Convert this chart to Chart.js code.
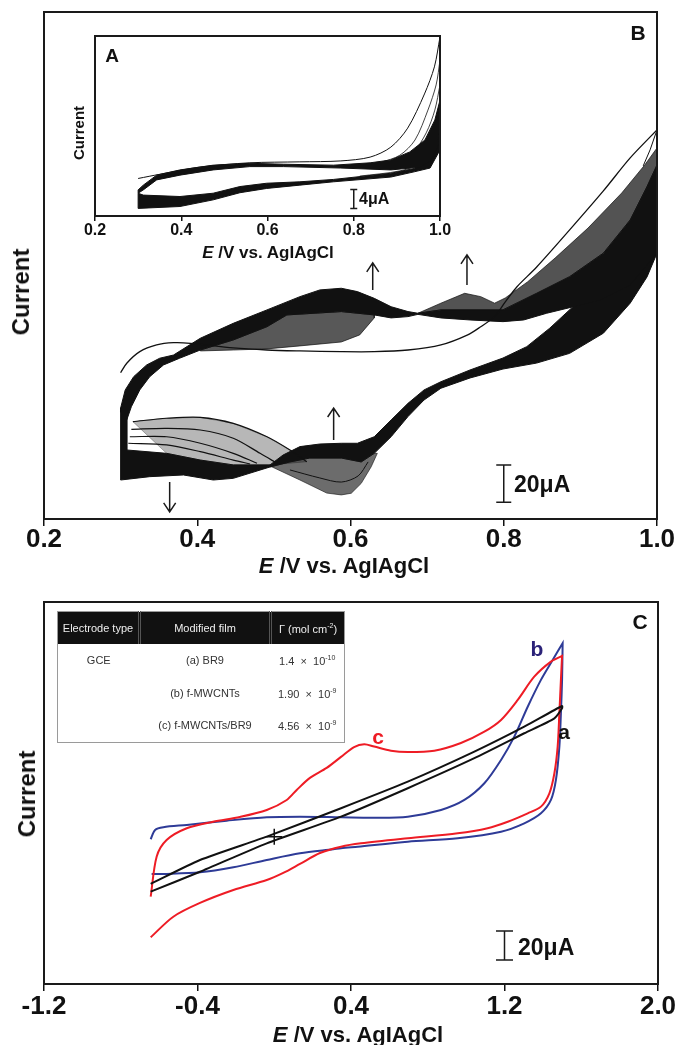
<!DOCTYPE html>
<html>
<head>
<meta charset="utf-8">
<script src="https://cdn.jsdelivr.net/npm/chart.js@4.4.1/dist/chart.umd.min.js"></script>
<style>
  html, body { margin: 0; padding: 0; background: #fff; }
  #page { position: relative; width: 682px; height: 1045px; overflow: hidden;
    font-family: "Liberation Sans", Arial, Helvetica, sans-serif; font-weight: bold; color: #111; }
  canvas { position: absolute; left: 0; }
  .t { position: absolute; white-space: nowrap; line-height: 1; transform: translate(-50%, -50%); }
  .l { position: absolute; white-space: nowrap; line-height: 1; transform: translateY(-50%); }
  .rot { transform: translate(-50%, -50%) rotate(-90deg); }
  #tbl { position: absolute; left: 57px; top: 611px; width: 288px; border-collapse: collapse;
    table-layout: fixed; font-family: "Liberation Sans", Arial, sans-serif; font-weight: normal;
    border: 1px solid #9a9a9a; }
  #tbl th, #tbl td { white-space: nowrap; padding: 0; text-align: center; }
  #tbl th { background: #111; color: #eee; font-weight: normal; font-size: 11px; height: 32px; }
  #tbl th + th { border-left: 3px double #555; }
  #tbl td { color: #333; font-size: 11px; height: 32.6px; }
  #tbl sup { font-size: 7px; }
</style>
</head>
<body>
<div id="page">
  <canvas id="chartB" width="682" height="580" style="top:0"></canvas>
  <canvas id="chartA" width="682" height="280" style="top:0"></canvas>
  <canvas id="chartC" width="682" height="465" style="top:580px"></canvas>

  <div class="t" style="left:638px; top:32px; font-size:21px;">B</div>
  <div class="t rot" style="left:21px; top:292px; font-size:24px;">Current</div>
  <div class="t" style="left:344px; top:566px; font-size:22px;"><i>E</i> /V vs. AgIAgCl</div>
  <div class="l" style="left:514px; top:484px; font-size:23px;">20μA</div>

  <div class="t" style="left:112px; top:55px; font-size:19px;">A</div>
  <div class="t rot" style="left:78px; top:133px; font-size:15px;">Current</div>
  <div class="t" style="left:268px; top:252px; font-size:17px;"><i>E</i> /V vs. AgIAgCl</div>
  <div class="l" style="left:359px; top:199px; font-size:16px;">4μA</div>

  <div class="t" style="left:640px; top:621px; font-size:21px;">C</div>
  <div class="t rot" style="left:27px; top:794px; font-size:24px;">Current</div>
  <div class="t" style="left:358px; top:1035px; font-size:22px;"><i>E</i> /V vs. AgIAgCl</div>
  <div class="l" style="left:518px; top:947px; font-size:23px;">20μA</div>
  <div class="t" style="left:564px; top:731px; font-size:21px;">a</div>
  <div class="t" style="left:537px; top:648px; font-size:21px; color:#2b2278;">b</div>
  <div class="t" style="left:378px; top:736px; font-size:21px; color:#ee1c25;">c</div>

  <table id="tbl">
    <colgroup><col style="width:82px"><col style="width:131px"><col></colgroup>
    <tr><th>Electrode type</th><th>Modified film</th><th>Γ (mol cm<sup>-2</sup>)</th></tr>
    <tr><td>GCE</td><td>(a) BR9</td><td>1.4 &nbsp;×&nbsp; 10<sup>-10</sup></td></tr>
    <tr><td></td><td>(b) f-MWCNTs</td><td>1.90 &nbsp;×&nbsp; 10<sup>-9</sup></td></tr>
    <tr><td></td><td>(c) f-MWCNTs/BR9</td><td>4.56 &nbsp;×&nbsp; 10<sup>-9</sup></td></tr>
  </table>
</div>

<script>
// ---- Panel B: repeated cycles (E in V, I in uA) ----
const bFwdTopE = [0.300, 0.306, 0.317, 0.334, 0.351, 0.369, 0.404, 0.447, 0.491, 0.534, 0.560, 0.588, 0.609, 0.631, 0.653, 0.675, 0.688, 0.718, 0.756, 0.799, 0.843, 0.886, 0.930, 0.965, 0.987, 1.000];
const bFwdTopI = [59.5, 69.2, 76.3, 82.6, 86.2, 87.9, 96.9, 104.9, 112.1, 119.2, 122.8, 123.7, 121.9, 118.3, 113.8, 111.2, 110.3, 112.1, 112.1, 112.1, 121.0, 129.9, 142.5, 160.3, 178.2, 189.8];
const bFwdBotE = [0.300, 0.308, 0.314, 0.325, 0.338, 0.356, 0.377, 0.404, 0.447, 0.491, 0.517, 0.588, 0.631, 0.653, 0.675, 0.688, 0.718, 0.756, 0.799, 0.826, 0.856, 0.890, 0.926, 0.965, 1.000];
const bFwdBotI = [57.4, 53.1, 60.2, 69.2, 76.3, 82.6, 86.2, 90.6, 96.0, 103.1, 109.4, 111.2, 109.4, 107.8, 108.5, 109.7, 107.8, 106.7, 105.8, 106.7, 110.3, 113.7, 117.4, 125.5, 142.5];
const bRevTopE = [0.495, 0.512, 0.534, 0.560, 0.588, 0.609, 0.631, 0.653, 0.675, 0.696, 0.718, 0.756, 0.799, 0.830, 0.860, 0.890, 0.926, 0.965, 1.000];
const bRevTopI = [29.0, 34.3, 38.8, 40.2, 40.6, 40.6, 44.1, 53.1, 62.0, 69.2, 73.6, 79.9, 86.3, 92.4, 102.3, 113.7, 122.8, 136.2, 149.6];
const bRevBotE = [0.495, 0.521, 0.547, 0.588, 0.614, 0.631, 0.653, 0.675, 0.696, 0.718, 0.756, 0.799, 0.843, 0.886, 0.930, 0.965, 0.987, 1.000];
const bRevBotI = [27.9, 30.6, 32.7, 32.7, 30.6, 35.2, 44.1, 54.9, 63.8, 70.1, 75.6, 80.4, 83.6, 88.8, 99.6, 115.7, 129.8, 142.5];
const bLowTopE = [0.300, 0.308, 0.308, 0.360, 0.404, 0.447, 0.495];
const bLowTopI = [59.5, 57.4, 37.0, 35.2, 31.6, 29.0, 29.0];
const bLowBotE = [0.300, 0.338, 0.382, 0.421, 0.447, 0.495];
const bLowBotI = [20.9, 22.7, 23.6, 20.9, 21.8, 27.9];
const bBumpLowE = [0.495, 0.534, 0.569, 0.588, 0.601, 0.614, 0.627, 0.635];
const bBumpLowI = [28.4, 20.9, 13.9, 12.9, 13.8, 19.1, 28.0, 35.2];
const bBumpMidE = [0.521, 0.560, 0.588, 0.610, 0.623];
const bBumpMidI = [26.3, 22.0, 19.8, 23.1, 30.6];
const bHatch1E = [0.404, 0.447, 0.491, 0.534, 0.588, 0.612, 0.631];
const bHatch1I = [90.1, 90.6, 91.2, 92.8, 94.9, 98.7, 107.8];
const bHatch2E = [0.688, 0.718, 0.749, 0.770, 0.788, 0.802, 0.831, 0.867, 0.910, 0.954, 0.984, 1.000];
const bHatch2I = [110.3, 115.7, 121.0, 119.2, 115.7, 118.5, 127.1, 139.9, 156.0, 174.8, 189.8, 198.9];
const bFirstE = [0.300, 0.308, 0.325, 0.347, 0.369, 0.391, 0.447, 0.491, 0.534, 0.588, 0.631, 0.675, 0.718, 0.753, 0.770, 0.788, 0.802, 0.817, 0.843, 0.886, 0.930, 0.965, 1.000];
const bFirstI = [78.4, 83.5, 89.7, 93.3, 94.5, 94.2, 91.7, 90.6, 90.1, 89.7, 89.7, 90.6, 93.3, 98.7, 103.1, 108.5, 116.4, 124.4, 135.1, 155.0, 175.9, 193.6, 208.6];
const bFan1E = [0.316, 0.360, 0.404, 0.447, 0.491, 0.521, 0.543];
const bFan1I = [52.2, 54.0, 54.5, 51.3, 44.1, 37.0, 30.7];
const bFan2E = [0.314, 0.360, 0.404, 0.447, 0.482, 0.504];
const bFan2I = [48.1, 48.6, 47.7, 43.3, 35.2, 29.9];
const bFan3E = [0.312, 0.360, 0.404, 0.447, 0.478];
const bFan3I = [44.1, 44.1, 40.6, 35.2, 29.9];
const bFan4E = [0.310, 0.360, 0.404, 0.447, 0.469];
const bFan4I = [40.6, 39.7, 36.1, 31.6, 29.5];
const bApexE = [1.000, 0.991, 0.982];
const bApexI = [208.6, 197.9, 189.3];

// ---- Inset A ----
const aFwdTopE = [0.300, 0.312, 0.343, 0.397, 0.474, 0.559, 0.637, 0.753, 0.838, 0.886, 0.930, 0.965, 0.988, 1.000];
const aFwdTopI = [5.5, 6.5, 8.6, 9.7, 10.7, 11.1, 10.9, 10.7, 11.2, 11.8, 13.5, 16.0, 20.2, 24.4];
const aFwdBotE = [0.300, 0.312, 0.343, 0.397, 0.474, 0.559, 0.637, 0.770, 0.886, 0.954, 0.981, 1.000];
const aFwdBotI = [4.8, 5.5, 7.6, 8.6, 9.7, 10.4, 10.4, 10.1, 9.7, 10.3, 11.8, 16.0];
const aRevTopE = [0.300, 0.312, 0.397, 0.474, 0.536, 0.598, 0.675, 0.753, 0.886, 0.940, 0.971, 0.995, 1.000];
const aRevTopI = [4.8, 4.4, 4.1, 4.8, 6.2, 6.9, 7.2, 7.7, 9.0, 10.0, 11.8, 16.0, 18.8];
const aRevBotE = [0.300, 0.397, 0.474, 0.536, 0.598, 0.675, 0.753, 0.886, 0.940, 0.977, 1.000];
const aRevBotI = [1.6, 2.0, 3.4, 4.9, 5.8, 6.5, 7.2, 8.2, 9.3, 10.1, 13.9];
const aFirstE = [0.300, 0.351, 0.443, 0.559, 0.675, 0.770, 0.838, 0.886, 0.925, 0.964, 0.987, 1.000];
const aFirstI = [7.9, 8.8, 10.3, 11.2, 11.4, 11.6, 12.4, 14.5, 18.5, 25.7, 31.4, 37.7];
const aFan2E = [0.861, 0.907, 0.942, 0.972, 0.991, 1.000];
const aFan2I = [11.2, 12.8, 16.0, 22.3, 27.6, 32.8];
const aFan3E = [0.896, 0.937, 0.968, 0.988, 1.000];
const aFan3I = [11.2, 13.3, 17.5, 22.3, 27.6];
const aFan4E = [0.926, 0.963, 0.986, 1.000];
const aFan4I = [11.0, 13.5, 17.5, 22.3];
const aRevLineE = [0.814, 0.907, 0.965, 0.991, 1.000];
const aRevLineI = [8.4, 9.5, 11.4, 14.3, 18.1];

// ---- Panel C: a = BR9, b = f-MWCNTs, c = f-MWCNTs/BR9 ----
const cRedFwdE = [-0.644, -0.613, -0.561, -0.456, -0.319, -0.179, -0.039, 0.065, 0.117, 0.186, 0.273, 0.348, 0.416, 0.469, 0.521, 0.608, 0.696, 0.834, 0.973, 1.095, 1.182, 1.269, 1.355, 1.442, 1.500];
const cRedFwdI = [60.2, 87.8, 99.3, 107.4, 111.9, 115.2, 120.0, 126.9, 133.8, 142.1, 149.0, 156.6, 163.4, 165.3, 163.7, 160.9, 160.0, 160.9, 166.2, 174.0, 182.1, 195.9, 211.9, 222.3, 226.2];
const cRedRevE = [1.500, 1.494, 1.486, 1.477, 1.460, 1.434, 1.390, 1.321, 1.217, 1.112, 0.956, 0.696, 0.452, 0.348, 0.238, 0.134, 0.047, -0.039, -0.213, -0.387, -0.526, -0.644];
const cRedRevI = [226.2, 209.7, 186.9, 163.7, 145.3, 131.5, 122.3, 117.7, 111.9, 107.4, 103.9, 100.5, 97.0, 94.7, 90.3, 82.8, 76.6, 71.7, 64.8, 55.9, 46.4, 32.2];
const cBlueFwdE = [-0.644, -0.621, -0.578, -0.456, -0.248, -0.039, 0.134, 0.348, 0.521, 0.696, 0.869, 0.991, 1.095, 1.182, 1.251, 1.321, 1.390, 1.451, 1.503];
const cBlueFwdI = [99.8, 106.2, 108.1, 109.7, 112.6, 115.0, 115.4, 115.0, 114.7, 115.4, 120.0, 126.9, 138.4, 154.5, 170.6, 191.2, 209.7, 223.4, 235.0];
const cBlueRevE = [1.503, 1.500, 1.494, 1.486, 1.468, 1.442, 1.390, 1.303, 1.182, 0.956, 0.696, 0.435, 0.348, 0.308, 0.134, -0.039, -0.213, -0.387, -0.561, -0.639];
const cBlueRevI = [235.0, 209.7, 186.7, 163.7, 140.7, 126.9, 117.7, 110.8, 105.0, 100.5, 98.1, 94.7, 93.6, 92.9, 90.1, 85.5, 80.5, 77.0, 75.9, 75.9];
const cBlackFwdE = [-0.644, -0.387, -0.039, 0.348, 0.696, 1.043, 1.303, 1.500];
const cBlackFwdI = [69.0, 85.5, 101.6, 121.2, 139.5, 160.2, 177.4, 191.7];
const cBlackRevE = [1.500, 1.460, 1.303, 1.043, 0.696, 0.348, -0.039, -0.387, -0.644];
const cBlackRevI = [190.1, 183.2, 172.9, 155.7, 135.0, 115.4, 97.0, 77.4, 63.7];
const cCrossE = [0.0];
const cCrossI = [101.6];

const FONT = '"Liberation Sans", Arial, Helvetica, sans-serif';
const INK = "#111";

function pts(E, I) {
  return E.map((e, k) => ({ x: e, y: I[k] }));
}
// closed outline: one edge left to right, the other back right to left
function band(top, bottom) {
  const p = top.concat(bottom.slice().reverse());
  p.push(p[0]);
  return p;
}
function within(p, lo, hi) {
  return p.filter((q) => q.x >= lo && q.x <= hi);
}
function solid(data, color) {
  return { data, showLine: true, fill: "shape", backgroundColor: color, borderColor: color,
    borderWidth: 1, pointRadius: 0, tension: 0 };
}
function trace(data, color, width, tension) {
  return { data, showLine: true, fill: false, borderColor: color, borderWidth: width,
    pointRadius: 0, tension: tension || 0 };
}

// frame, scale bars and arrows, placed through the chart's scales
const marksPlugin = {
  id: "marks",
  afterDraw(chart, args, opts) {
    const { ctx, chartArea: a } = chart;
    const x = chart.scales.x, y = chart.scales.y;
    ctx.save();
    ctx.strokeStyle = "#1a1a1a";
    ctx.lineWidth = 2;
    ctx.strokeRect(a.left, a.top, a.right - a.left, a.bottom - a.top);
    ctx.lineWidth = 1.5;
    (opts.bars || []).forEach(([e, lo, hi]) => {
      const px = x.getPixelForValue(e), y1 = y.getPixelForValue(lo), y2 = y.getPixelForValue(hi);
      const c = opts.cap / 2;
      ctx.beginPath();
      ctx.moveTo(px, y1); ctx.lineTo(px, y2);
      ctx.moveTo(px - c, y1); ctx.lineTo(px + c, y1);
      ctx.moveTo(px - c, y2); ctx.lineTo(px + c, y2);
      ctx.stroke();
    });
    (opts.arrows || []).forEach(([e, from, to]) => {
      const px = x.getPixelForValue(e), y1 = y.getPixelForValue(from), y2 = y.getPixelForValue(to);
      const d = y2 < y1 ? 1 : -1;
      ctx.beginPath();
      ctx.moveTo(px, y1); ctx.lineTo(px, y2);
      ctx.moveTo(px - 6, y2 + d * 9); ctx.lineTo(px, y2); ctx.lineTo(px + 6, y2 + d * 9);
      ctx.stroke();
    });
    ctx.restore();
  },
};

function xAxis(min, max, step, size, tick, height, pad) {
  return {
    type: "linear", min, max,
    ticks: { stepSize: step, autoSkip: false, maxRotation: 0, padding: pad, color: INK,
      font: { family: FONT, weight: "bold", size }, callback: (v) => v.toFixed(1) },
    grid: { drawOnChartArea: false, drawTicks: true, tickLength: tick, color: INK, lineWidth: 1.5 },
    border: { display: true, color: INK, width: 2 },
    afterFit: (s) => { s.height = height; },
  };
}
function baseOptions(pad, x, yMin, yMax, marks) {
  return {
    responsive: false, animation: false, events: [],
    layout: { padding: pad },
    scales: { x, y: { type: "linear", display: false, min: yMin, max: yMax } },
    plugins: { legend: { display: false }, tooltip: { enabled: false }, marks },
  };
}

// ---- B ----
const fwd = band(pts(bFwdTopE, bFwdTopI), pts(bFwdBotE, bFwdBotI));
const rev = band(pts(bRevTopE, bRevTopI), pts(bRevBotE, bRevBotI));
const low = band(pts(bLowTopE, bLowTopI), pts(bLowBotE, bLowBotI));
const hatch1 = band(within(pts(bFwdBotE, bFwdBotI), 0.404, 0.631), pts(bHatch1E, bHatch1I));
const hatch2 = band(pts(bHatch2E, bHatch2I), within(pts(bFwdTopE, bFwdTopI), 0.688, 1.0));
const bump = band(within(pts(bRevBotE, bRevBotI), 0.495, 0.631), pts(bBumpLowE, bBumpLowI));
const fan = band(pts(bFan1E, bFan1I), within(pts(bLowTopE, bLowTopI), 0.36, 0.5));

new Chart(document.getElementById("chartB"), {
  type: "scatter",
  data: {
    datasets: [
      trace(pts(bFirstE, bFirstI), INK, 1.3, 0.3),
      trace(pts(bApexE, bApexI), INK, 1),
      trace(pts(bFan1E, bFan1I), INK, 1.2, 0.3),
      trace(pts(bFan2E, bFan2I), INK, 1.2, 0.3),
      trace(pts(bFan3E, bFan3I), INK, 1.2, 0.3),
      trace(pts(bFan4E, bFan4I), INK, 1.2, 0.3),
      trace(pts(bBumpMidE, bBumpMidI), INK, 1, 0.3),
      solid(fwd, INK),
      solid(rev, INK),
      solid(low, INK),
      solid(hatch1, "rgba(17,17,17,0.7)"),
      solid(hatch2, "rgba(17,17,17,0.72)"),
      solid(bump, "rgba(17,17,17,0.62)"),
      solid(fan, "rgba(17,17,17,0.3)"),
    ],
  },
  options: baseOptions({ left: 44, top: 12, right: 25, bottom: 0 },
    xAxis(0.2, 1.0, 0.2, 26, 7, 61, -2), 0, 271.8,
    { cap: 15, bars: [[0.8, 9.0, 29.0]],
      arrows: [[0.629, 122.8, 137.3], [0.752, 125.5, 141.6], [0.578, 42.4, 59.5], [0.364, 19.8, 3.8]] }),
  plugins: [marksPlugin],
});

// ---- A (inset) ----
new Chart(document.getElementById("chartA"), {
  type: "scatter",
  data: {
    datasets: [
      trace(pts(aFirstE, aFirstI), INK, 1, 0.3),
      trace(pts(aFan2E, aFan2I), INK, 0.8, 0.3),
      trace(pts(aFan3E, aFan3I), INK, 0.8, 0.3),
      trace(pts(aFan4E, aFan4I), INK, 0.8, 0.3),
      trace(pts(aRevLineE, aRevLineI), INK, 0.8, 0.3),
      solid(band(pts(aFwdTopE, aFwdTopI), pts(aFwdBotE, aFwdBotI)), INK),
      solid(band(pts(aRevTopE, aRevTopI), pts(aRevBotE, aRevBotI)), INK),
    ],
  },
  options: baseOptions({ left: 95, top: 36, right: 242, bottom: 0 },
    xAxis(0.2, 1.0, 0.2, 16, 5, 64, 0), 0, 37.9,
    { cap: 7, bars: [[0.8, 1.6, 5.6]] }),
  plugins: [marksPlugin],
});

// ---- C ----
function cv(fE, fI, rE, rI) {
  return pts(fE, fI).concat(pts(rE, rI));
}
new Chart(document.getElementById("chartC"), {
  type: "scatter",
  data: {
    datasets: [
      { data: pts(cCrossE, cCrossI), pointStyle: "cross", pointRadius: 8, borderColor: INK, borderWidth: 1.5 },
      trace(cv(cBlackFwdE, cBlackFwdI, cBlackRevE, cBlackRevI), INK, 2, 0.2),
      trace(cv(cRedFwdE, cRedFwdI, cRedRevE, cRedRevI), "#ee1c25", 2, 0.3),
      trace(cv(cBlueFwdE, cBlueFwdI, cBlueRevE, cBlueRevI), "#2e3b97", 2, 0.3),
    ],
  },
  options: baseOptions({ left: 44, top: 22, right: 24, bottom: 0 },
    xAxis(-1.2, 2.0, 0.8, 26, 7, 61, 0), 0, 263.4,
    { cap: 17, bars: [[1.2, 16.6, 36.6]] }),
  plugins: [marksPlugin],
});
</script>
</body>
</html>
